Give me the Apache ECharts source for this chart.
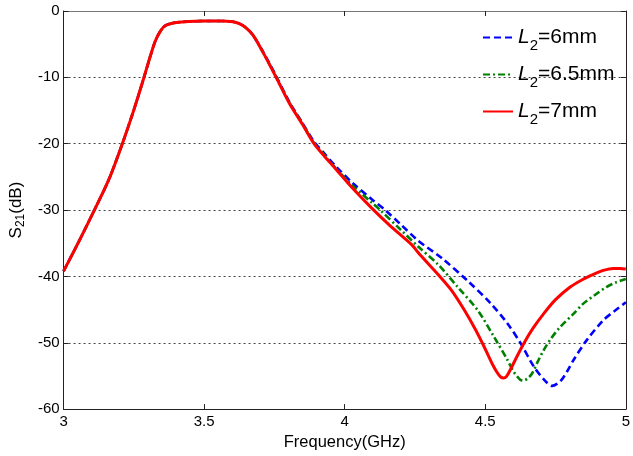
<!DOCTYPE html>
<html>
<head>
<meta charset="utf-8">
<script src="https://cdn.jsdelivr.net/npm/echarts@6/dist/echarts.min.js"></script>
<style>
  html, body { margin: 0; padding: 0; background: #fff; }
  #chart { width: 633px; height: 456px; }
</style>
</head>
<body>
<div id="chart"></div>
<script>
// Transmission S21 versus frequency for three values of L2
const xTicks = [3, 3.5, 4, 4.5, 5];
const yTicks = [0, -10, -20, -30, -40, -50, -60];

const freqL6 = [3.0, 3.056, 3.113, 3.162, 3.209, 3.25, 3.286, 3.31, 3.327, 3.345, 3.362, 3.39, 3.42, 3.5, 3.56, 3.603, 3.625, 3.645, 3.673, 3.709, 3.756, 3.803, 3.85, 3.891, 3.93, 3.968, 4.03, 4.097, 4.144, 4.2, 4.261, 4.344, 4.438, 4.52, 4.579, 4.626, 4.673, 4.714, 4.737, 4.767, 4.79, 4.814, 4.861, 4.92, 4.96, 5.0];
const dbL6 = [-39.2, -34.6, -29.7, -25.3, -20.0, -14.9, -10.0, -6.6, -4.45, -3.0, -2.2, -1.8, -1.65, -1.5, -1.5, -1.63, -1.9, -2.4, -3.6, -6.1, -9.8, -13.7, -16.9, -19.7, -21.6, -23.4, -26.0, -28.4, -30.0, -32.2, -34.6, -37.2, -40.7, -44.1, -47.1, -50.1, -53.6, -55.8, -56.5, -55.8, -54.4, -52.6, -49.6, -46.6, -45.2, -43.9];

const freqL65 = [3.0, 3.056, 3.113, 3.162, 3.209, 3.25, 3.286, 3.31, 3.327, 3.345, 3.362, 3.39, 3.42, 3.5, 3.56, 3.603, 3.625, 3.645, 3.673, 3.709, 3.756, 3.803, 3.85, 3.891, 3.93, 3.968, 4.03, 4.097, 4.126, 4.2, 4.261, 4.332, 4.402, 4.473, 4.531, 4.579, 4.6, 4.614, 4.625, 4.635, 4.65, 4.667, 4.685, 4.708, 4.735, 4.767, 4.81, 4.849, 4.89, 4.931, 4.965, 5.0];
const dbL65 = [-39.2, -34.6, -29.7, -25.3, -20.0, -14.9, -10.0, -6.6, -4.45, -3.0, -2.2, -1.8, -1.65, -1.5, -1.5, -1.63, -1.9, -2.4, -3.6, -6.2, -9.9, -13.8, -17.0, -19.9, -21.8, -23.7, -26.4, -28.9, -30.0, -33.0, -35.5, -38.2, -41.6, -45.1, -49.1, -52.6, -54.3, -55.1, -55.6, -55.7, -55.4, -54.6, -53.0, -51.1, -49.3, -47.6, -45.8, -44.1, -42.8, -41.6, -40.9, -40.4];

const freqL7 = [3.0, 3.056, 3.113, 3.162, 3.209, 3.25, 3.286, 3.31, 3.327, 3.345, 3.362, 3.39, 3.42, 3.5, 3.56, 3.603, 3.625, 3.645, 3.673, 3.709, 3.756, 3.803, 3.85, 3.891, 3.93, 3.968, 4.03, 4.097, 4.16, 4.238, 4.261, 4.332, 4.38, 4.426, 4.465, 4.496, 4.525, 4.544, 4.556, 4.565, 4.575, 4.59, 4.61, 4.637, 4.67, 4.708, 4.75, 4.802, 4.845, 4.885, 4.92, 4.955, 4.98, 5.0];
const dbL7 = [-39.2, -34.6, -29.7, -25.3, -20.0, -14.9, -10.0, -6.6, -4.45, -3.0, -2.2, -1.8, -1.65, -1.5, -1.5, -1.63, -1.9, -2.4, -3.6, -6.2, -10.0, -13.9, -17.1, -20.0, -22.0, -23.8, -26.8, -29.75, -32.3, -35.2, -36.4, -39.7, -42.1, -45.1, -48.0, -50.6, -53.2, -54.6, -55.2, -55.3, -55.1, -54.0, -52.3, -50.1, -47.8, -45.6, -43.5, -41.6, -40.5, -39.7, -39.1, -38.8, -38.8, -38.9];

const seriesNames = ['L2=6mm', 'L2=6.5mm', 'L2=7mm'];
const seriesColors = ['#0000ff', '#008000', '#ff0000'];

const FONT = 'Liberation Sans, Arial, sans-serif';

function pairs(xs, ys) {
  return xs.map((x, i) => [x, ys[i]]);
}

const legendRich = {
  i: { fontFamily: FONT, fontStyle: 'italic', fontSize: 21, color: '#000' },
  s: { fontFamily: FONT, fontSize: 15, color: '#000', padding: [16, 0, 0, 0] },
  n: { fontFamily: FONT, fontSize: 21, color: '#000' }
};

const chart = echarts.init(document.getElementById('chart'), null, { renderer: 'canvas' });

const baseY = {
  type: 'value', min: -60, max: 0, interval: 10,
  axisLine: { show: true, lineStyle: { color: '#222', width: 1 } },
  axisTick: { show: true, inside: true, length: 5, lineStyle: { color: '#222' } }
};
const baseX = {
  type: 'value', min: 3, max: 5, interval: 0.5,
  axisLine: { show: true, onZero: false, lineStyle: { color: '#222', width: 1 } },
  axisTick: { show: true, inside: true, length: 5, lineStyle: { color: '#222' } },
  splitLine: { show: false }
};

chart.setOption({
  animation: false,
  backgroundColor: '#fff',
  grid: { left: 62, top: 11, right: 3, bottom: 43, containLabel: false },
  xAxis: [
    Object.assign({}, baseX, {
      position: 'bottom',
      axisLabel: {
        show: true, margin: 5, color: '#000', fontFamily: FONT, fontSize: 15,
        formatter: v => (xTicks.includes(v) ? String(v) : '')
      },
      name: 'Frequency(GHz)', nameLocation: 'middle', nameGap: 22,
      nameTextStyle: { fontFamily: FONT, fontSize: 16.5, color: '#000' }
    }),
    Object.assign({}, baseX, {
      position: 'top',
      axisLine: { show: true, onZero: false, lineStyle: { color: '#777', width: 1 } },
      axisLabel: { show: false }
    })
  ],
  yAxis: [
    Object.assign({}, baseY, {
      position: 'left',
      axisLabel: {
        show: true, margin: 4, color: '#000', fontFamily: FONT, fontSize: 15,
        formatter: v => (yTicks.includes(v) ? String(v) : '')
      },
      splitLine: { show: true, lineStyle: { color: '#444', type: [2, 3], width: 1 } },
      name: '{a|S}{b|21}{a|(dB)}', nameLocation: 'middle', nameGap: 35, nameRotate: 90,
      nameTextStyle: {
        rich: {
          a: { fontFamily: FONT, fontSize: 17, color: '#000' },
          b: { fontFamily: FONT, fontSize: 12, color: '#000', padding: [9, 0, 0, 0] }
        }
      }
    }),
    Object.assign({}, baseY, {
      position: 'right',
      axisLabel: { show: false },
      splitLine: { show: false }
    })
  ],
  legend: {
    show: true,
    orient: 'vertical',
    left: 477,
    top: 22,
    itemGap: 11,
    itemWidth: 30,
    itemHeight: 14,
    data: seriesNames,
    itemStyle: { opacity: 0 },
    formatter: name => '{i|L}{s|2}{n|' + name.slice(2) + '}',
    textStyle: { rich: legendRich }
  },
  series: [
    { name: seriesNames[0], data: pairs(freqL6, dbL6),
      lineStyle: { color: seriesColors[0], width: 2.6, type: [7, 4] } },
    { name: seriesNames[1], data: pairs(freqL65, dbL65),
      lineStyle: { color: seriesColors[1], width: 2.6, type: [7, 3, 2, 3] } },
    { name: seriesNames[2], data: pairs(freqL7, dbL7),
      lineStyle: { color: seriesColors[2], width: 3 } }
  ].map(s => Object.assign({
    type: 'line', symbol: 'none', smooth: 0.3,
    xAxisIndex: 0, yAxisIndex: 0,
    itemStyle: { color: s.lineStyle.color }
  }, s))
});
</script>
</body>
</html>
